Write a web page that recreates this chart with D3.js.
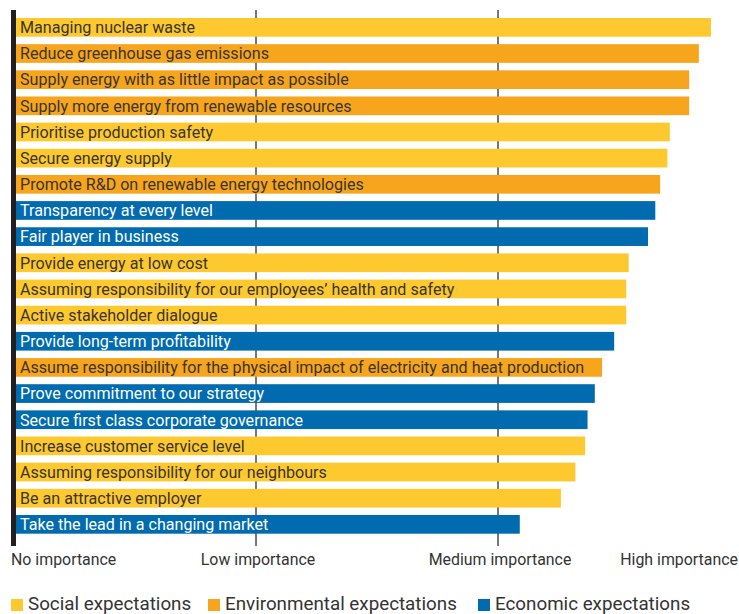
<!DOCTYPE html>
<html><head><meta charset="utf-8">
<script src="https://cdn.jsdelivr.net/npm/d3@7"></script>
<style>body{margin:0;background:#fff;}svg{display:block;font-family:Roboto,"Open Sans",sans-serif;}</style>
</head><body>
<svg id="chart" width="739" height="614"></svg>
<script>
const categories = [
  "Managing nuclear waste",
  "Reduce greenhouse gas emissions",
  "Supply energy with as little impact as possible",
  "Supply more energy from renewable resources",
  "Prioritise production safety",
  "Secure energy supply",
  "Promote R&D on renewable energy technologies",
  "Transparency at every level",
  "Fair player in business",
  "Provide energy at low cost",
  "Assuming responsibility for our employees’ health and safety",
  "Active stakeholder dialogue",
  "Provide long-term profitability",
  "Assume responsibility for the physical impact of electricity and heat production",
  "Prove commitment to our strategy",
  "Secure first class corporate governance",
  "Increase customer service level",
  "Assuming responsibility for our neighbours",
  "Be an attractive employer",
  "Take the lead in a changing market"
];
const values = [2.88, 2.83, 2.79, 2.79, 2.71, 2.70, 2.67, 2.65, 2.62, 2.54, 2.53, 2.53, 2.48, 2.43, 2.40, 2.37, 2.36, 2.32, 2.26, 2.09];
const groups = ["social","environmental","environmental","environmental","social","social","environmental","economic","economic","social","social","social","economic","environmental","economic","economic","social","social","social","economic"];
const seriesKeys = ["social","environmental","economic"];
const seriesNames = ["Social expectations","Environmental expectations","Economic expectations"];
const tickValues = [0, 1, 2, 3];
const tickLabels = ["No importance","Low importance","Medium importance","High importance"];

const colors = {social:"#FDC92E", environmental:"#F6A51D", economic:"#006BAE"};
const svg = d3.select("#chart");

const x = d3.scaleLinear().domain([0,3]).range([14, 740]);
const y = d3.scaleBand().domain(categories).range([18, 533.7]).paddingInner(0.285).paddingOuter(0);

// gridlines
svg.append("g").selectAll("line").data(tickValues.slice(1)).join("line")
  .attr("x1", d => x(d)).attr("x2", d => x(d))
  .attr("y1", 10).attr("y2", 546)
  .attr("stroke", "#4a4a4a").attr("stroke-width", 1.5);

const data = categories.map((c,i) => ({c, v: values[i], g: groups[i]}));

svg.append("g").selectAll("rect").data(data).join("rect")
  .attr("x", x(0)).attr("y", d => y(d.c))
  .attr("width", d => x(d.v) - x(0)).attr("height", y.bandwidth())
  .attr("fill", d => colors[d.g]);

svg.append("g").selectAll("text").data(data).join("text")
  .attr("x", 20).attr("y", d => y(d.c) + y.bandwidth()/2)
  .attr("dy", "0.36em")
  .attr("font-size", 16.1)
  .attr("fill", d => d.g === "economic" ? "#ffffff" : "#3a3530")
  .text(d => d.c);

// left axis bar
svg.append("rect").attr("x", 11).attr("y", 10).attr("width", 5).attr("height", 536).attr("fill", "#231f20");

// tick labels
svg.append("g").selectAll("text").data(tickValues).join("text")
  .attr("x", (d,i) => i === 0 ? 11 : (i === tickValues.length-1 ? 738 : x(d) + 2))
  .attr("y", 565)
  .attr("text-anchor", (d,i) => i === 0 ? "start" : (i === tickValues.length-1 ? "end" : "middle"))
  .attr("font-size", 15.9)
  .attr("fill", "#333")
  .text((d,i) => tickLabels[i]);

// legend
const legendX = [11, 208, 478];
const lg = svg.append("g").selectAll("g").data(seriesKeys).join("g")
  .attr("transform", (d,i) => `translate(${legendX[i]},599)`);
lg.append("rect").attr("width", 12).attr("height", 12).attr("fill", d => colors[d]);
lg.append("text").attr("x", 17).attr("y", 10.5).attr("font-size", 18.8).attr("fill", "#333")
  .text((d,i) => seriesNames[i]);
</script>
</body></html>
